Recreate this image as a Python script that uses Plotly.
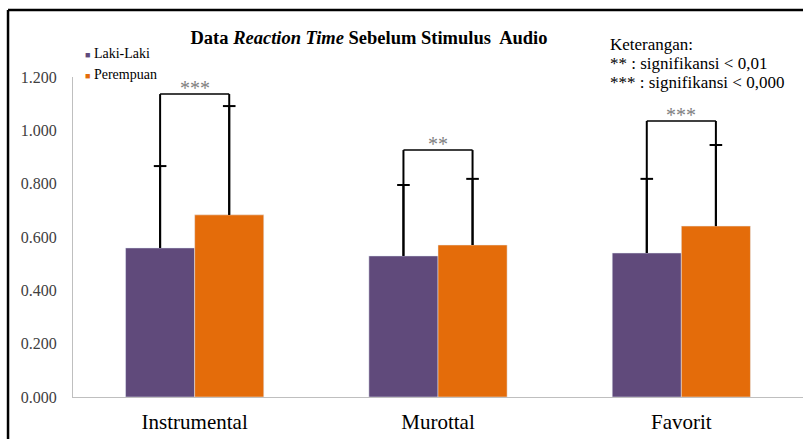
import plotly.graph_objects as go

categories = ["Instrumental", "Murottal", "Favorit"]
laki_mean = [0.559, 0.529, 0.540]
perempuan_mean = [0.683, 0.570, 0.641]
laki_upper = [0.866, 0.795, 0.818]
perempuan_upper = [1.091, 0.818, 0.945]
bracket_level = [1.136, 0.926, 1.035]
bracket_marks = ["***", "**", "***"]
ytick_vals = [0.0, 0.2, 0.4, 0.6, 0.8, 1.0, 1.2]
ytick_text = ["0.000", "0.200", "0.400", "0.600", "0.800", "1.000", "1.200"]

PURPLE = "#604A7B"
ORANGE = "#E46C0A"
SERIF = "Liberation Serif"
BARGAP = 0.432

xpos = list(range(len(categories)))
offset = (1 - BARGAP) / 4

fig = go.Figure()

for means, upper, color, name in [(laki_mean, laki_upper, PURPLE, "Laki-Laki"),
                                  (perempuan_mean, perempuan_upper, ORANGE, "Perempuan")]:
    fig.add_trace(go.Bar(
        x=xpos, y=means, marker_color=color, name=name, showlegend=False,
        error_y=dict(type="data", symmetric=False,
                     array=[u - m for u, m in zip(upper, means)],
                     arrayminus=[0] * len(means), color="black", thickness=2, width=0),
    ))

# caps on top of the standard-deviation lines
for means, upper, sign in [(laki_mean, laki_upper, -1), (perempuan_mean, perempuan_upper, 1)]:
    fig.add_trace(go.Scatter(
        x=[i + sign * offset for i in xpos], y=upper, mode="markers", showlegend=False,
        hoverinfo="skip",
        marker=dict(symbol="line-ew", size=9, line=dict(color="black", width=2)),
    ))

# significance brackets joining the two bars of each group
for i, (lv, mark) in enumerate(zip(bracket_level, bracket_marks)):
    xl, xr = i - offset, i + offset
    line = dict(color="black", width=2)
    fig.add_shape(type="line", xref="x", yref="y", x0=xl, x1=xl,
                  y0=laki_mean[i], y1=lv, line=line)
    fig.add_shape(type="line", xref="x", yref="y", x0=xr, x1=xr,
                  y0=perempuan_mean[i], y1=lv, line=line)
    fig.add_shape(type="line", xref="x", yref="y", x0=xl, x1=xr,
                  y0=lv, y1=lv, line=dict(color="black", width=1.5))
    fig.add_annotation(x=i, y=lv, xref="x", yref="y", text=mark, showarrow=False,
                       yanchor="bottom", yshift=-7,
                       font=dict(family=SERIF, size=20, color="#808080"))

# outer frame (top and left edges)
fig.add_shape(type="line", xref="paper", yref="paper", x0=-0.089, x1=1.1,
              y0=1.209, y1=1.209, line=dict(color="black", width=2.5))
fig.add_shape(type="line", xref="paper", yref="paper", x0=-0.089, x1=-0.089,
              y0=1.209, y1=-0.3, line=dict(color="black", width=2.5))

# series key
for k, (name, color) in enumerate([("Laki-Laki", PURPLE), ("Perempuan", ORANGE)]):
    fig.add_annotation(
        x=(83 - 73) / 730, y=1 + (77 - (53 + 22 * k)) / 320, xref="paper", yref="paper",
        text=f"<span style='color:{color};font-size:9px'>■</span> {name}",
        showarrow=False, xanchor="left", yanchor="middle",
        font=dict(family=SERIF, size=14, color="black"))

# notes box
notes = ["Keterangan:", "** : signifikansi < 0,01", "*** : signifikansi < 0,000"]
for k, txt in enumerate(notes):
    fig.add_annotation(x=(608 - 73) / 730, y=1 + (77 - (45 + 18.5 * k)) / 320,
                       xref="paper", yref="paper", text=txt, showarrow=False,
                       xanchor="left", yanchor="middle",
                       font=dict(family=SERIF, size=17, color="black"))

fig.update_layout(
    width=803, height=439,
    margin=dict(l=73, r=0, t=77, b=42),
    paper_bgcolor="white", plot_bgcolor="white",
    barmode="group", bargap=BARGAP, bargroupgap=0,
    showlegend=False,
    title=dict(text="<b>Data <i>Reaction Time</i> Sebelum Stimulus&nbsp; Audio</b>",
               x=(369 - 73) / 730, xref="paper", xanchor="center",
               y=1 - 38 / 439, yref="container", yanchor="middle",
               font=dict(family=SERIF, size=18.5, color="black")),
    xaxis=dict(showline=True, linecolor="#BFBFBF", linewidth=1, ticks="",
               tickvals=xpos, ticktext=categories, ticklabelstandoff=6,
               tickfont=dict(family=SERIF, size=21, color="black"),
               showgrid=False, zeroline=False, range=[-0.5, 2.5]),
    yaxis=dict(range=[0, 1.2], tickvals=ytick_vals, ticktext=ytick_text,
               showline=True, linecolor="#BFBFBF", linewidth=1, ticks="",
               showgrid=False, zeroline=False, ticklabelstandoff=12,
               tickfont=dict(family=SERIF, size=16, color="#404040")),
)

fig.write_html("out.html")
